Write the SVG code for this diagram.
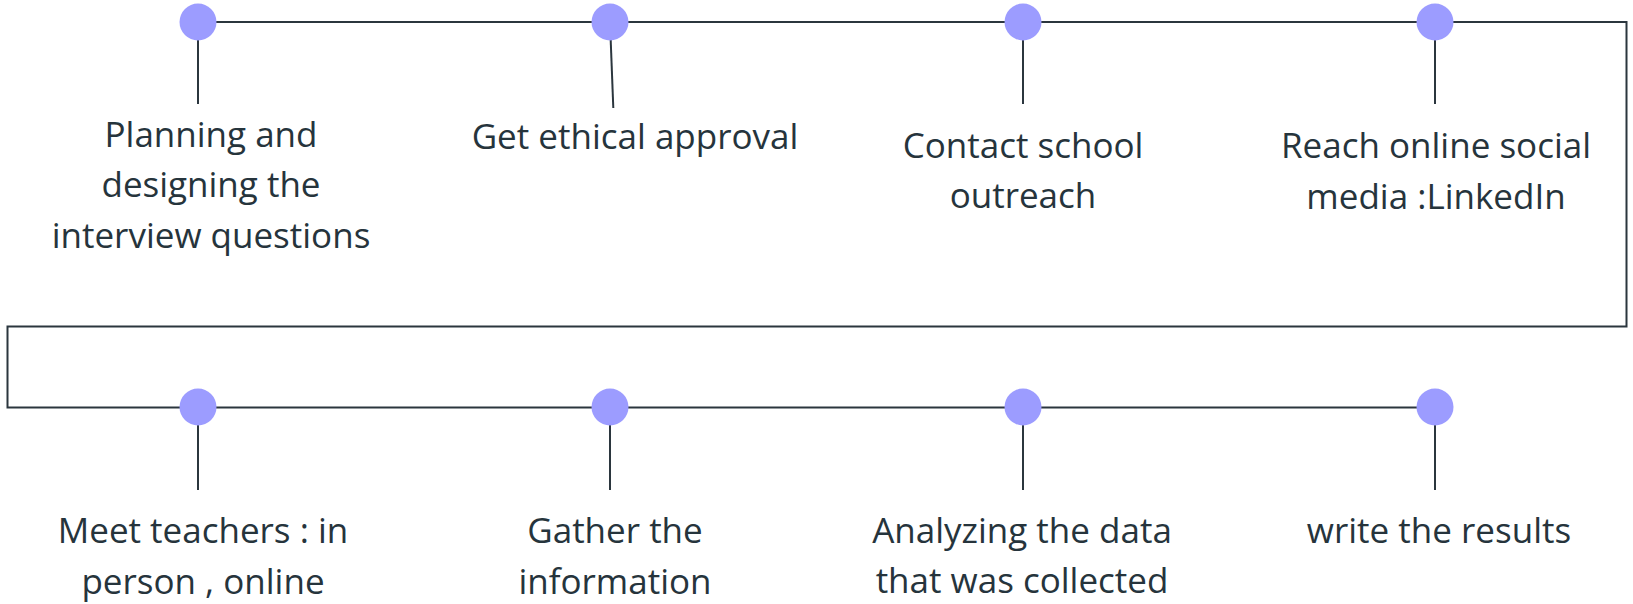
<svg xmlns="http://www.w3.org/2000/svg" width="1633" height="604" viewBox="0 0 1633 604">
<style>
.ln{fill:none;stroke:#2b363e;stroke-width:2}
.dot{fill:#9c9cff}
.t{font-family:"Open Sans","Noto Sans",sans-serif;font-size:35px;fill:#26343c;text-anchor:middle}
</style>
<rect width="1633" height="604" fill="#ffffff"/>
<g id="connectors">
<path class="ln" d="M198,22 H1626.5 V326.5 H7.5 V407.5 H1435"/>
<line class="ln" x1="198" y1="22" x2="198" y2="104"/>
<line class="ln" x1="610" y1="22" x2="613.3" y2="108"/>
<line class="ln" x1="1023" y1="22" x2="1023" y2="104"/>
<line class="ln" x1="1435" y1="22" x2="1435" y2="104"/>
<line class="ln" x1="198" y1="407" x2="198" y2="490"/>
<line class="ln" x1="610" y1="407" x2="610" y2="490"/>
<line class="ln" x1="1023" y1="407" x2="1023" y2="490"/>
<line class="ln" x1="1435" y1="407" x2="1435" y2="490"/>
</g>
<g id="n1"><circle class="dot" cx="198" cy="22" r="18.5"/><text class="t" x="211" y="147">Planning and<tspan x="211" y="197">designing the</tspan><tspan x="211" y="248">interview questions</tspan></text></g>
<g id="n2"><circle class="dot" cx="610" cy="22" r="18.5"/><text class="t" x="635" y="149">Get ethical approval</text></g>
<g id="n3"><circle class="dot" cx="1023" cy="22" r="18.5"/><text class="t" x="1023" y="158">Contact school<tspan x="1023" y="208">outreach</tspan></text></g>
<g id="n4"><circle class="dot" cx="1435" cy="22" r="18.5"/><text class="t" x="1436" y="158">Reach online social<tspan x="1436" y="209">media :LinkedIn</tspan></text></g>
<g id="n5"><circle class="dot" cx="198" cy="407" r="18.5"/><text class="t" x="203" y="543">Meet teachers : in<tspan x="203" y="594">person , online</tspan></text></g>
<g id="n6"><circle class="dot" cx="610" cy="407" r="18.5"/><text class="t" x="615" y="543">Gather the<tspan x="615" y="594">information</tspan></text></g>
<g id="n7"><circle class="dot" cx="1023" cy="407" r="18.5"/><text class="t" x="1022" y="543">Analyzing the data<tspan x="1022" y="593">that was collected</tspan></text></g>
<g id="n8"><circle class="dot" cx="1435" cy="407" r="18.5"/><text class="t" x="1439" y="543">write the results</text></g>
</svg>
